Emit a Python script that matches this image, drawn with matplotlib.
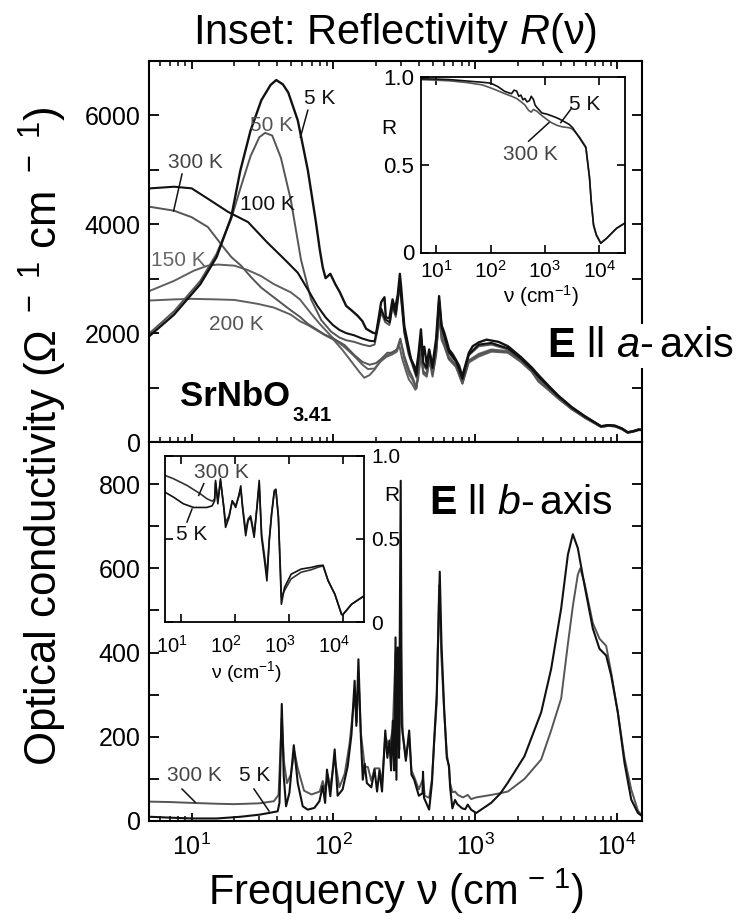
import numpy as np
import matplotlib
matplotlib.use('Agg')
import matplotlib.pyplot as plt
from matplotlib.ticker import (MultipleLocator, FuncFormatter, FixedLocator,
                               FixedFormatter, NullLocator, NullFormatter, LogLocator)
from matplotlib.lines import Line2D
import matplotlib.transforms as mtransforms

plt.rcParams['font.family'] = ['Liberation Sans', 'DejaVu Sans']
plt.rcParams['mathtext.fontset'] = 'custom'
plt.rcParams['mathtext.rm'] = 'Liberation Sans'
plt.rcParams['mathtext.it'] = 'Liberation Sans:italic'
plt.rcParams['mathtext.bf'] = 'Liberation Sans:bold'

# ---------------- data: E || a-axis conductivity (nu [cm^-1], sigma [1/(Ohm cm)]) -------------
a_5K = [(5.1,1960),(7.5,2340),(11.5,2900),(15,3400),(19,4130),(22,4980),(26,5720),(31,6280),
        (36,6560),(39.5,6650),(44,6570),(48,6420),(56,5910),(66,4990),(75,4060),(80,3540),
        (84,3210),(88,3010),(95,3090),(103,2900),(111,2750),(117,2620),(123,2500),(134,2420),
        (148,2320),(160,2220),(170,2080),(189,2010),(200,1990),(217,2570),(229,2660),(234,2290),
        (248,2270),(261,2620),(272,2450),(284,2700),(294,3090),(300,2850),(316,2130),(335,1800),
        (352,1520),(368,1420),(383,1300),(398,1620),(414,2070),(426,1580),(437,1750),(455,1420),
        (473,1700),(499,1400),(530,1900),(556,2680),(578,2150),(603,2020),(630,1850),(653,1700),
        (690,1620),(727,1520),(770,1400),(809,1210),(850,1400),(902,1640),(960,1760),(1060,1830),
        (1200,1880),(1460,1840),(1700,1760),(2100,1560),(2500,1370),(2790,1230),(3300,1030),
        (3860,850),(4800,640),(5960,470),(7710,290),(8700,310),(9660,300),(10800,250),
        (11900,180),(13000,200),(14200,230),(15000,225)]
a_50K = [(5.1,2010),(7.5,2400),(11.5,2960),(15,3460),(19,4100),(22,4650),(26,5250),(30,5600),
         (33,5680),(37,5630),(42.6,5220),(50,4450),(59,3350),(69.5,2620),(82,2240),(96,2030),
         (110,1920),(123,1870),(140,1840),(160,1790),(180,1760),(195,1790),(217,2380),(232,2200),
         (248,2150),(261,2480),(275,2300),(294,2870),(316,2000),(340,1600),(360,1420),(385,1180),
         (414,1900),(430,1420),(455,1320),(475,1620),(500,1320),(530,1760),(556,2560),(580,2060),
         (603,1920),(650,1640),(730,1470),(812,1130),(900,1590),(1060,1760),(1300,1790),
         (1700,1700),(2100,1520),(2500,1320),(2790,1180),(3300,1000),(3860,830),(4800,620),
         (5960,460),(7710,285),(8700,305),(9660,295),(10800,245),(11900,175),(13000,195),
         (14200,225),(15000,222)]
a_100K = [(5.1,4660),(7.5,4690),(10,4660),(13,4470),(18,4230),(25,4040),(34,3670),(45,3360),
          (56,3110),(66,2800),(77,2500),(88,2290),(99,2150),(110,2060),(123,2000),(140,1960),
          (160,1900),(180,1860),(195,1850),(217,2450),(232,2250),(250,2200),(261,2550),(275,2350),
          (294,2950),(316,2050),(340,1650),(360,1460),(385,1220),(414,1960),(430,1460),(455,1360),
          (475,1660),(500,1360),(530,1800),(556,2610),(580,2100),(603,1960),(650,1660),(730,1490),
          (812,1160),(900,1610),(1060,1790),(1300,1820),(1700,1720),(2100,1530),(2500,1340),
          (2790,1200),(3300,1010),(3860,840),(4800,630),(5960,465),(7710,288),(8700,308),
          (9660,298),(10800,248),(11900,178),(13000,198),(14200,228),(15000,224)]
a_150K = [(5.1,2780),(7.5,2960),(10.4,3150),(13,3240),(15.3,3260),(20,3240),(24.8,3160),
          (30.8,3050),(38,2900),(50,2750),(58,2620),(70,2350),(80,2170),(100,1900),(120,1740),
          (140,1580),(160,1420),(175,1340),(195,1350),(215,1480),(235,1560),(260,1610),
          (280,1660),(296,1880),(316,1520),(340,1250),(360,1150),(385,980),(414,1700),(430,1300),
          (455,1250),(475,1560),(500,1250),(530,1680),(556,2400),(580,1950),(603,1820),(650,1570),
          (730,1420),(812,1090),(900,1500),(1060,1620),(1300,1700),(1700,1670),(2100,1500),
          (2500,1310),(2790,1130),(3300,970),(3860,810),(4800,610),(5960,450),(7710,280),
          (8700,300),(9660,290),(10800,240),(11900,172),(13000,192),(14200,222),(15000,220)]
a_200K = [(5.1,2600),(7.5,2620),(10,2630),(15,2620),(20,2610),(29,2540),(38,2470),(50,2340),
          (58,2220),(66,2150),(86,1970),(100,1880),(115,1700),(130,1520),(153,1280),(165,1180),
          (180,1230),(195,1330),(211,1460),(235,1580),(260,1650),(280,1700),(292,1760),(306,1520),
          (325,1300),(340,1150),(360,1060),(378,960),(395,1150),(414,1600),(430,1250),(455,1200),
          (475,1500),(500,1200),(530,1600),(556,2300),(580,1870),(603,1770),(650,1520),(730,1380),
          (812,1070),(900,1460),(1060,1570),(1300,1660),(1700,1640),(2100,1470),(2500,1290),
          (2790,1110),(3300,950),(3860,795),(4800,600),(5960,440),(7710,275),(8700,295),
          (9660,285),(10800,235),(11900,168),(13000,188),(14200,218),(15000,216)]
a_300K = [(5.1,4320),(7.5,4250),(10,4130),(13,3950),(16.5,3600),(19,3400),(22.3,3240),
          (26.2,3030),(30.8,2840),(38.3,2650),(50,2420),(58,2300),(66,2170),(86,1980),(100,1900),
          (120,1780),(140,1600),(160,1470),(180,1420),(200,1450),(220,1540),(240,1640),(260,1640),
          (280,1700),(296,1900),(316,1580),(340,1330),(360,1200),(385,1000),(414,1680),(430,1290),
          (455,1240),(475,1540),(500,1240),(530,1640),(556,2340),(580,1900),(603,1790),(650,1540),
          (730,1400),(812,1080),(900,1480),(1060,1600),(1300,1680),(1700,1650),(2100,1480),
          (2500,1300),(2790,1120),(3300,960),(3860,800),(4800,605),(5960,445),(7710,278),
          (8700,298),(9660,288),(10800,238),(11900,170),(13000,190),(14200,220),(15000,218)]

# ---------------- data: E || b-axis conductivity ----------------
b_5K = [(5.08,10),(7,8),(10,6),(15,6),(22,10),(30,15),(35,19),(40.4,23),(41.6,43),(43.2,278),
        (44.6,107),(46.3,35),(48.9,67),(52.5,180),(56,90),(60.7,35),(65.8,27),(73.3,31),
        (79.6,47),(84,83),(87.3,43),(90,122),(95,59),(102,170),(107,60),(116,75),(126,130),
        (134,206),(141,333),(145,226),(150,384),(156,200),(161,98),(166,136),(172,90),(185,80),
        (195,122),(203,70),(211,120),(220,70),(232,215),(240,150),(248,191),(255,120),(262,238),
        (268,120),(274,436),(278,98),(284,412),(290,150),(298,808),(303,230),(308,206),(324,143),
        (342,215),(355,110),(371,98),(400,60),(425,66),(428,117),(435,55),(473,27),(495,90),
        (513,191),(535,300),(562,592),(578,420),(603,270),(630,150),(653,131),(665,80),(690,30),
        (720,50),(747,40),(809,30),(850,28),(885,39),(935,27),(1015,19),(1294,43),(1500,65),
        (1697,91),(2225,154),(2917,258),(3430,361),(4036,505),(4500,632),(4878,681),(5289,648),
        (5894,560),(6750,457),(7520,409),(8380,393),(9100,345),(10130,258),(11290,138),
        (12590,51),(14030,19),(15000,12)]
b_300K = [(5.08,46),(7,45),(10,43),(15,41),(20,40),(30,42),(38,47),(41,62),(43.2,245),(44.8,140),
          (47,90),(50,110),(53.1,165),(56,125),(62,72),(70,63),(80,70),(84,95),(88,72),(91.2,110),
          (95,80),(102,150),(110,80),(120,112),(130,185),(141,300),(146,235),(150,350),(156,210),
          (166,130),(175,128),(185,95),(195,125),(211,125),(220,90),(232,200),(248,175),(262,220),
          (274,400),(280,150),(284,390),(292,170),(298,440),(308,210),(324,150),(342,200),
          (355,120),(371,105),(400,75),(428,100),(440,60),(473,55),(495,100),(513,185),(535,280),
          (556,560),(575,400),(603,260),(630,160),(653,125),(665,90),(690,68),(720,70),(753,62),
          (820,56),(885,62),(935,52),(1015,56),(1300,62),(1500,66),(1700,70),(2225,100),
          (2917,146),(3430,215),(4036,291),(4500,420),(4878,510),(5289,585),(5500,600),(5894,565),
          (6750,470),(7520,433),(8380,416),(9100,352),(10130,257),(11290,150),(12590,75),
          (14030,25),(15000,12)]

# ---------------- data: reflectivity insets ----------------
Ra_5K = [(5.2,0.99),(10,0.988),(18,0.985),(37,0.977),(70,0.97),(100,0.965),(135,0.946),
         (182,0.918),(215,0.91),(243,0.905),(270,0.925),(302,0.92),(330,0.89),(360,0.897),
         (395,0.87),(427,0.878),(470,0.858),(520,0.866),(560,0.89),(615,0.872),(660,0.84),
         (710,0.827),(880,0.795),(1100,0.788),(1350,0.778),(1700,0.766),(2090,0.752),(2800,0.73),
         (3230,0.712),(4300,0.655),(5700,0.597),(6650,0.424),(7150,0.29),(7890,0.155),(8840,0.1),
         (10700,0.052),(13650,0.08),(21000,0.138),(29000,0.165)]
Ra_300K = [(5.2,0.985),(10,0.982),(18,0.978),(37,0.968),(70,0.955),(100,0.938),(135,0.922),
           (182,0.905),(243,0.89),(300,0.878),(360,0.86),(430,0.84),(500,0.81),(560,0.80),
           (615,0.815),(710,0.805),(880,0.78),(1100,0.757),(1350,0.738),(1700,0.724),(2090,0.716),
           (2800,0.711),(3230,0.703),(4300,0.66),(5700,0.602),(6650,0.43),(7150,0.295),(7890,0.16),
           (8840,0.104),(10700,0.055),(13650,0.08),(21000,0.138),(29000,0.165)]
Rb_5K = [(5,0.782),(7.2,0.752),(11,0.712),(17,0.69),(30,0.69),(37.6,0.70),(41.8,0.73),
         (43.5,0.853),(48,0.712),(53.7,0.863),(61.7,0.69),(66.8,0.57),(77.5,0.63),(89,0.73),
         (103,0.69),(119,0.77),(128,0.82),(138,0.69),(158,0.52),(175,0.61),(195,0.63),(227,0.51),
         (255,0.69),(282,0.853),(312,0.51),(360,0.35),(392,0.248),(434,0.49),(479,0.651),
         (537,0.792),(576,0.80),(640,0.63),(698,0.288),(728,0.107),(832,0.208),(1106,0.288),
         (1700,0.319),(2630,0.329),(3500,0.339),(4340,0.342),(5380,0.248),(7180,0.167),
         (9550,0.046),(10000,0.042),(14700,0.107),(25000,0.157)]
Rb_300K = [(5,0.883),(7.2,0.863),(12.8,0.823),(22.7,0.772),(30.3,0.742),(37.6,0.728),(41.8,0.74),
           (43.5,0.84),(48,0.73),(53.7,0.85),(61.7,0.70),(66.8,0.60),(77.5,0.64),(89,0.73),
           (103,0.70),(119,0.76),(128,0.80),(138,0.70),(158,0.55),(175,0.62),(195,0.64),
           (227,0.53),(255,0.68),(282,0.83),(312,0.53),(360,0.38),(392,0.28),(434,0.50),
           (479,0.65),(537,0.78),(576,0.79),(640,0.64),(698,0.32),(728,0.15),(832,0.19),
           (1106,0.26),(1700,0.30),(2630,0.315),(3500,0.33),(4340,0.338),(5380,0.25),
           (7180,0.168),(9550,0.047),(10000,0.043),(14700,0.107),(25000,0.157)]

main_xticks = [10, 100, 1000, 10000]
inset_xticks = [10, 100, 1000, 10000]
inset_xticklabels = [r'$10^{1}$', r'$10^{2}$', r'$10^{3}$', r'$10^{4}$']
inset_yticks = [0, 0.5, 1.0]
inset_yticklabels = ['0', '0.5', '1.0']

BLACK = '#111111'
GRAY = '#555555'
GRAY2 = '#5f5f5f'

W, H = 754, 923
fig = plt.figure(figsize=(W / 100, H / 100), dpi=100)


def fx(px):
    return px / W


def fy(py):
    return 1 - py / H


def xy(series):
    a = np.array(series, dtype=float)
    return a[:, 0], a[:, 1]


# main axes
ax1 = fig.add_axes([fx(149), fy(442), (642 - 149) / W, (442 - 61) / H])
ax2 = fig.add_axes([fx(149), fy(821), (642 - 149) / W, (821 - 442) / H])

for s, c, lw in [(a_200K, GRAY2, 1.4), (a_150K, GRAY2, 1.4), (a_300K, GRAY, 1.4),
                 (a_50K, GRAY, 1.4), (a_100K, BLACK, 1.5), (a_5K, BLACK, 1.7)]:
    x, y = xy(s)
    ax1.plot(x, y, color=c, lw=lw, solid_joinstyle='round')

for s, c, lw in [(b_300K, GRAY, 1.4), (b_5K, BLACK, 1.5)]:
    x, y = xy(s)
    ax2.plot(x, y, color=c, lw=lw, solid_joinstyle='round')

for ax in (ax1, ax2):
    ax.set_xscale('log')
    ax.set_xlim(5, 1.5e4)
    ax.xaxis.set_major_locator(FixedLocator(main_xticks))
    ax.xaxis.set_minor_locator(LogLocator(base=10, subs=np.arange(2, 10)))
    ax.xaxis.set_minor_formatter(NullFormatter())
    for sp in ax.spines.values():
        sp.set_linewidth(1.5)
    ax.tick_params(axis='both', which='both', direction='in', right=True)
    ax.tick_params(axis='y', length=7, width=1.3, labelsize=18, pad=6)
    ax.tick_params(axis='x', which='major', length=6, width=1.3, labelsize=18, pad=9)
    ax.tick_params(axis='x', which='minor', length=3.3, width=1.1)

ax1.set_ylim(0, 7000)
ax1.yaxis.set_major_locator(MultipleLocator(1000))
ax1.yaxis.set_major_formatter(FuncFormatter(lambda v, p: f'{v:.0f}' if round(v) % 2000 == 0 else ''))
ax1.tick_params(axis='x', which='both', top=True, labelbottom=False)

ax2.set_ylim(0, 900)
ax2.yaxis.set_major_locator(MultipleLocator(100))
ax2.yaxis.set_major_formatter(FuncFormatter(lambda v, p: f'{v:.0f}' if round(v) % 200 == 0 else ''))
ax2.tick_params(axis='x', which='both', top=False)

# insets
axi1 = fig.add_axes([fx(421), fy(252.5), (625 - 421) / W, (252.5 - 77) / H])
axi2 = fig.add_axes([fx(165), fy(622), (364 - 165) / W, (622 - 456) / H])
for s, c in [(Ra_300K, GRAY), (Ra_5K, BLACK)]:
    x, y = xy(s)
    axi1.plot(x, y, color=c, lw=1.2)
for s, c in [(Rb_300K, '#333333'), (Rb_5K, BLACK)]:
    x, y = xy(s)
    axi2.plot(x, y, color=c, lw=1.2)

axi1.set_xlim(5.2, 3e4)
axi2.set_xlim(5, 2.5e4)
for ax in (axi1, axi2):
    ax.set_xscale('log')
    ax.set_ylim(0, 1)
    ax.set_facecolor('white')
    ax.xaxis.set_major_locator(FixedLocator(inset_xticks))
    ax.xaxis.set_minor_locator(NullLocator())
    ax.yaxis.set_major_locator(FixedLocator(inset_yticks))
    ax.yaxis.set_major_formatter(FixedFormatter(inset_yticklabels))
    for sp in ax.spines.values():
        sp.set_linewidth(1.3)
    ax.tick_params(axis='both', which='both', direction='in', top=True, right=True,
                   length=5.5, width=1.2, labelsize=15, pad=5)

axi1.tick_params(axis='y', labelsize=16)
axi1.xaxis.set_major_formatter(FixedFormatter(inset_xticklabels))
axi2.tick_params(axis='y', labelleft=False, labelright=True)
axi2.tick_params(axis='x', labelbottom=False)
trans_b = mtransforms.blended_transform_factory(axi2.transData, fig.transFigure) + \
    mtransforms.ScaledTranslation(-9 / 100, 0, fig.dpi_scale_trans)
for v, lab in zip(inset_xticks, inset_xticklabels):
    fig.text(v, fy(653), lab, transform=trans_b, ha='center', va='baseline', fontsize=14.5)

# ---------------- texts ----------------
fig.text(fx(395), fy(44), r'Inset: Reflectivity $R$(ν)', fontsize=30, ha='center', va='baseline')
fig.text(fx(396), fy(905), r'Frequency ν (cm$^{\,-\,1}$)', fontsize=30, ha='center', va='baseline')
fig.text(fx(58), fy(436), r'Optical conductivity (Ω$^{\;\,-\;\,1}$ cm$^{\;\,-\;\,1}$)', fontsize=31.5,
         rotation=90, rotation_mode='anchor', ha='center', va='baseline')

fig.text(fx(547), fy(357), r'$\mathbf{E}$ ll $a$-$\,$axis', fontsize=30, ha='left', va='baseline',
         bbox=dict(facecolor='white', edgecolor='none', pad=1.5))
fig.text(fx(428.6), fy(513.8), r'$\mathbf{E}$ ll $b$-$\,$axis', fontsize=29.5, ha='left', va='baseline')

t1 = fig.text(fx(180), fy(405.6), 'SrNbO', fontsize=25, fontweight='bold', ha='left', va='baseline')
ax1.annotate('3.41', xy=(1, 0), xycoords=t1, xytext=(2, -6), textcoords='offset points',
             fontsize=14.5, fontweight='bold', ha='left', va='baseline')

labels = [
    ('5 K', 320, 98.6, BLACK), ('50 K', 272, 125.4, GRAY), ('300 K', 195, 162.3, '#444444'),
    ('100 K', 267, 204.3, BLACK), ('150 K', 178, 260, '#666666'), ('200 K', 236.5, 325, GRAY),
    ('5 K', 585, 104, BLACK), ('300 K', 530, 155, '#444444'),
    ('300 K', 194.5, 775.6, '#444444'), ('5 K', 255, 775.6, BLACK),
    ('300 K', 221.5, 472, '#444444'), ('5 K', 192, 534, BLACK),
]
for s, x, y, c in labels:
    fig.text(fx(x), fy(y), s, fontsize=15, ha='center', va='center', color=c)

leaders = [((307.8, 110.3), (300.4, 137.2)), ((182, 174), (173.6, 211)),
           ((571, 109), (560.8, 122.6)), ((528.6, 141.2), (549, 122.6)),
           ((182, 789), (195.4, 802.4)), ((254, 789), (269, 811)),
           ((203.8, 483.6), (198.7, 495.4)), ((187, 522), (192, 509))]
for (x0, y0), (x1, y1) in leaders:
    fig.add_artist(Line2D([fx(x0), fx(x1)], [fy(y0), fy(y1)], transform=fig.transFigure,
                          color=BLACK, lw=1.1))

fig.text(fx(389), fy(128), 'R', fontsize=15, ha='center', va='center')
fig.text(fx(391.7), fy(495.4), 'R', fontsize=15, ha='center', va='center')
fig.text(fx(541), fy(296), r'ν (cm$^{-1}$)', fontsize=15, ha='center', va='center')
fig.text(fx(246.5), fy(672), r'ν (cm$^{-1}$)', fontsize=14, ha='center', va='center')

fig.savefig('out.png', dpi=100)
